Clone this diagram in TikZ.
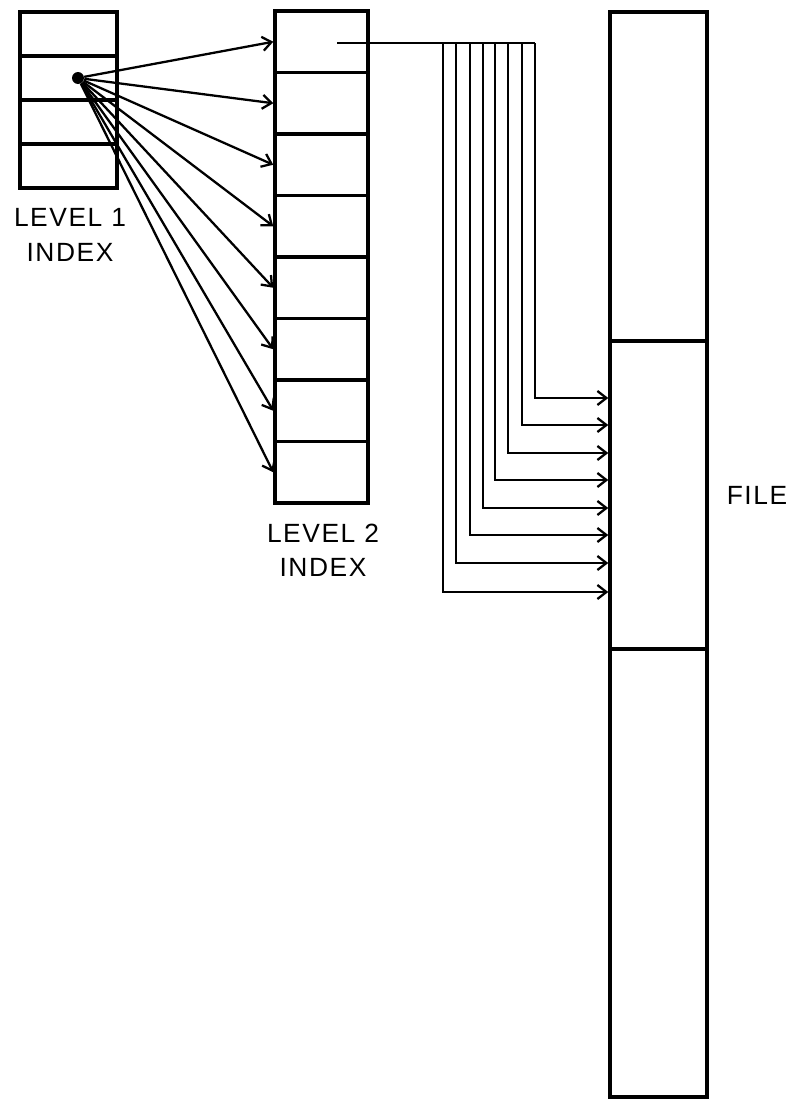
\documentclass[tikz,border=0pt]{standalone}
\usepackage{fontspec}
\setmainfont{Liberation Sans}[LetterSpace=6]
\usepackage{tikz}
\usetikzlibrary{arrows.meta,positioning,calc}

\begin{document}
\begin{tikzpicture}[x=0.02cm, y=-0.02cm, every node/.style={font=\fontsize{15}{19.5}\selectfont}, cell/.style={draw, line width=2pt, inner sep=0, minimum width=1.94cm, minimum height=0.88cm}, slot/.style={draw, line width=2pt, inner sep=0, minimum width=1.86cm, minimum height=1.23cm}, part/.style={draw, line width=2pt, inner sep=0, minimum width=1.94cm}, wire/.style={line width=1.3pt}, arr/.style={wire, -{Straight Barb[length=1.8mm,width=2.8mm,line width=1.3pt]}}]
\useasboundingbox (0,0) rectangle (790,1099);
% level 1 index
\foreach \i in {1,...,4}
  \node[cell] (a\i) at (68.5,{12+44*(\i-0.5)}) {};
\node[circle, fill, inner sep=0, minimum size=0.24cm] (hub) at (78,78) {};
\node[align=center] (lab1) at (70,235) {LEVEL 1\\INDEX};
% level 2 index
\foreach \i in {1,...,8}
  \node[slot] (b\i) at (321.5,{11+61.5*(\i-0.5)}) {};
\node[align=center] (lab2) at (323,550) {LEVEL 2\\INDEX};
% file
\node[part, minimum height=6.58cm] (f1) at (658.5,176.5) {};
\node[part, minimum height=6.16cm] (f2) at (658.5,495) {};
\node[part, minimum height=8.96cm] (f3) at (658.5,873) {};
\node (lab3) at (757,495) {FILE};
% level 1 -> level 2
\foreach \i in {1,...,8}
  \draw[arr] (hub) -- (b\i.west);
% level 2 -> file
\coordinate (src) at (337,43);
\foreach \xx/\yy [count=\i] in {443/592, 456/563, 470/535, 483/508, 495/480, 508/453, 522/425, 535/398}
  \coordinate (tap\i) at (\xx,43);
\draw[wire] (src) -- (tap8);
\foreach \xx/\yy [count=\i] in {443/592, 456/563, 470/535, 483/508, 495/480, 508/453, 522/425, 535/398}
  \draw[arr] (tap\i) |- (f2.west |- 0,\yy);
\end{tikzpicture}
\end{document}
